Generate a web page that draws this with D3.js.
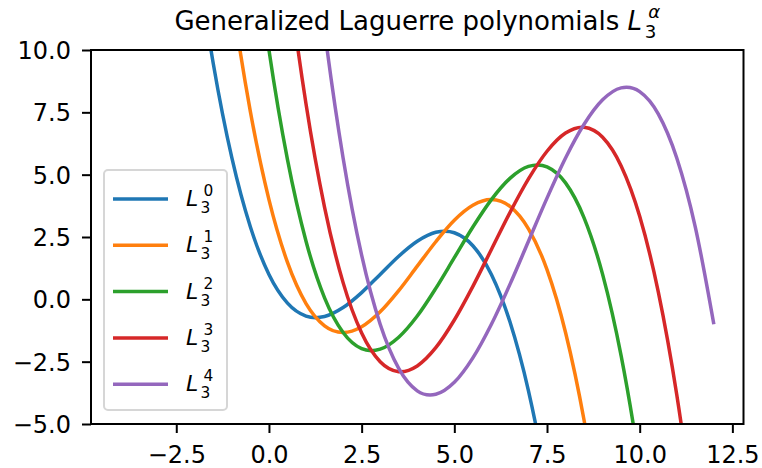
<!DOCTYPE html>
<html>
<head>
<meta charset="utf-8">
<script src="https://cdn.jsdelivr.net/npm/d3@7"></script>
<style>
  body { margin: 0; background: #fff; }
  text { font-family: "DejaVu Sans", sans-serif; }
</style>
</head>
<body>
<svg id="chart" width="762" height="468"></svg>
<script>
// x samples and L_3^alpha values
const xs = [-4, -3.5, -3, -2.5, -2, -1.5, -1, -0.5, 0, 0.5, 1, 1.5, 2, 2.5, 3, 3.5, 4,
  4.5, 5, 5.5, 6, 6.5, 7, 7.5, 8, 8.5, 9, 9.5, 10, 10.5, 11, 11.5, 12];
const L0 = [47.67, 37.02, 28.0, 20.48, 14.33, 9.44, 5.67, 2.90, 1.0, -0.15, -0.67, -0.69, -0.33,
  0.27, 1.0, 1.73, 2.33, 2.69, 2.67, 2.15, 1.0, -0.90, -3.67, -7.44, -12.33, -18.48, -26.0,
  -35.02, -45.67, -58.06, -72.33, -88.60, -107.0];
const L1 = [70.67, 56.65, 44.5, 34.10, 25.33, 18.06, 12.17, 7.52, 4.0, 1.48, -0.17, -1.06, -1.33,
  -1.10, -0.5, 0.35, 1.33, 2.31, 3.17, 3.77, 4.0, 3.73, 2.83, 1.19, -1.33, -4.85, -9.5,
  -15.40, -22.67, -31.44, -41.83, -53.98, -68.0];
const L2 = [100.67, 82.77, 67.0, 53.23, 41.33, 31.19, 22.67, 15.65, 10.0, 5.60, 2.33, 0.06, -1.33,
  -1.98, -2.0, -1.52, -0.67, 0.44, 1.67, 2.90, 4.0, 4.85, 5.33, 5.31, 4.67, 3.27, 1.0,
  -2.27, -6.67, -12.31, -19.33, -27.85, -38.0];
const L3 = [138.67, 116.40, 96.5, 78.85, 63.33, 49.81, 38.17, 28.27, 20.0, 13.23, 7.83, 3.69, 0.67,
  -1.35, -2.5, -2.90, -2.67, -1.94, -0.83, 0.52, 2.0, 3.48, 4.83, 5.94, 6.67, 6.90, 6.5,
  5.35, 3.33, 0.31, -3.83, -9.23, -16.0];
const L4 = [185.67, 158.52, 134.0, 111.98, 92.33, 74.94, 59.67, 46.40, 35.0, 25.35, 17.33, 10.81, 5.67,
  1.77, -1.0, -2.77, -3.67, -3.81, -3.33, -2.35, -1.0, 0.60, 2.33, 4.06, 5.67, 7.02, 8.0,
  8.48, 8.33, 7.44, 5.67, 2.90, -1.0];
const alphas = ["0", "1", "2", "3", "4"];
const colors = ["#1f77b4", "#ff7f0e", "#2ca02c", "#d62728", "#9467bd"];
const xTicks = [-2.5, 0, 2.5, 5, 7.5, 10, 12.5];
const yTicks = [-5, -2.5, 0, 2.5, 5, 7.5, 10];

const series = [L0, L1, L2, L3, L4];

const svg = d3.select("#chart");
svg.append("rect").attr("width", 762).attr("height", 468).attr("fill", "#fff");

const margin = { top: 50, right: 18.5, bottom: 44, left: 91 };
const width = 762 - margin.left - margin.right;
const height = 468 - margin.top - margin.bottom;

const g = svg.append("g").attr("transform", `translate(${margin.left},${margin.top})`);

const x = d3.scaleLinear().domain([-4.8, 12.8]).range([0, width]);
const y = d3.scaleLinear().domain([-5, 10]).range([height, 0]);

svg.append("defs").append("clipPath").attr("id", "plot-clip")
  .append("rect").attr("width", width).attr("height", height);

// curves
const line = d3.line()
  .x(d => x(d[0]))
  .y(d => y(d[1]))
  .curve(d3.curveCatmullRom.alpha(0));

g.append("g").attr("clip-path", "url(#plot-clip)")
  .selectAll("path")
  .data(series)
  .join("path")
  .attr("d", s => line(xs.map((v, i) => [v, s[i]])))
  .attr("fill", "none")
  .attr("stroke", (s, i) => colors[i])
  .attr("stroke-width", 3.5)
  .attr("stroke-linejoin", "round");

// axes
const xAxis = g.append("g")
  .attr("transform", `translate(0,${height})`)
  .call(d3.axisBottom(x).tickValues(xTicks).tickFormat(d3.format(".1f")).tickSize(9).tickPadding(9));
const yAxis = g.append("g")
  .call(d3.axisLeft(y).tickValues(yTicks).tickFormat(d3.format(".1f")).tickSize(9).tickPadding(11));

[xAxis, yAxis].forEach(a => {
  a.attr("font-size", null).attr("font-family", null);
  a.select(".domain").remove();
  a.selectAll(".tick line").attr("stroke", "#000").attr("stroke-width", 2);
  a.selectAll(".tick text")
    .attr("fill", "#000")
    .style("font-size", "24px");
});
xAxis.selectAll(".tick text").attr("dy", "0.875em");
yAxis.selectAll(".tick text").attr("dy", "0.36em");

// frame
g.append("rect")
  .attr("width", width).attr("height", height)
  .attr("fill", "none")
  .attr("stroke", "#000")
  .attr("stroke-width", 2);

// L with sub 3 and a superscript, drawn as separate texts
function mathLabel(parent, x0, base, size, sup) {
  const k = size / 22;
  parent.append("text")
    .attr("x", x0).attr("y", base)
    .style("font-size", size + "px").style("font-style", "italic")
    .text("L");
  parent.append("text")
    .attr("x", x0 + 14.5 * k).attr("y", base + 7 * k)
    .style("font-size", (size * 0.7) + "px")
    .text("3");
  parent.append("text")
    .attr("x", x0 + 17.5 * k).attr("y", base - 10 * k)
    .style("font-size", (size * 0.7) + "px")
    .style("font-style", sup === "α" ? "italic" : "normal")
    .text(sup);
}

// legend
const legend = svg.append("g");
legend.append("rect")
  .attr("x", 104).attr("y", 170)
  .attr("width", 123).attr("height", 240)
  .attr("rx", 4)
  .attr("fill", "#fff").attr("fill-opacity", 0.8)
  .attr("stroke", "#d6d6d6").attr("stroke-width", 2);

alphas.forEach((a, i) => {
  const cy = 199 + i * 46.3;
  legend.append("line")
    .attr("x1", 113).attr("x2", 168)
    .attr("y1", cy).attr("y2", cy)
    .attr("stroke", colors[i]).attr("stroke-width", 3.5);
  mathLabel(legend, 186, cy + 7, 22, a);
});

// title
const titleSize = 26;
const title = svg.append("g");
const main = title.append("text")
  .attr("y", 30)
  .style("font-size", titleSize + "px")
  .text("Generalized Laguerre polynomials");
const mainW = main.node().getComputedTextLength();
const gap = 0.318 * titleSize;
const mathW = 1.25 * titleSize;
const startX = margin.left + width / 2 - (mainW + gap + mathW) / 2;
main.attr("x", startX);
mathLabel(title, startX + mainW + gap, 30, titleSize, "α");
</script>
</body>
</html>
